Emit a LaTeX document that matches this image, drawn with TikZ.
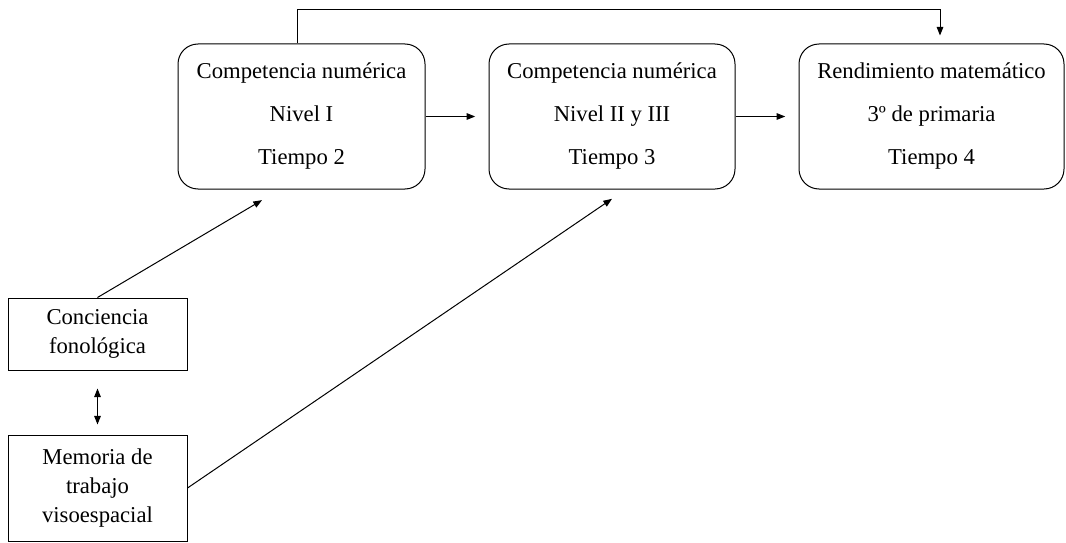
\documentclass[tikz,border=0pt]{standalone}
\usepackage{fontspec}
\setmainfont{Liberation Serif}
\usetikzlibrary{positioning, arrows.meta}

\tikzset{
    fase/.style={draw=black, line width=0.75pt, rounded corners=15pt, align=center,
        inner sep=0pt, minimum height=108.75pt, font=\fontsize{17}{32.25}\selectfont},
    predictor/.style={draw=black, line width=0.75pt, align=center, inner sep=0pt,
        minimum width=134.25pt, font=\fontsize{17}{21.75}\selectfont},
    freccia/.style={-{Triangle[length=6.5pt, width=5pt]}, line width=0.75pt}
}

\begin{document}
\begin{tikzpicture}[x=0.75pt, y=-0.75pt]
    \useasboundingbox (0,0) rectangle (1066,542);

    \node[fase, minimum width=185.25pt] (tempo2) at (301.5,116.5)
        {Competencia numérica\\Nivel I\\Tiempo 2};
    \node[fase, minimum width=184.5pt] (tempo3) at (612,116.5)
        {Competencia numérica\\Nivel II y III\\Tiempo 3};
    \node[fase, minimum width=198.75pt] (tempo4) at (931.5,116.5)
        {Rendimiento matemático\\3º de primaria\\Tiempo 4};

    \node[predictor, minimum height=54pt] (coscienza) at (97.5,334)
        {Conciencia\\fonológica};
    \node[predictor, minimum height=79.5pt] (memoria) at (97.5,488)
        {Memoria de\\trabajo\\visoespacial};

    \coordinate (alto) at (297,10);
    \coordinate (arrivo4) at (940,10);

    \draw[freccia, shorten >=10pt] (tempo2.east) -- (tempo3.west);
    \draw[freccia, shorten >=10pt] (tempo3.east) -- (tempo4.west);
    \draw[freccia, shorten >=6pt] (tempo2.north -| alto) -- (alto) -- (arrivo4)
        -- (arrivo4 |- tempo4.north);
    \draw[freccia] (coscienza.north) -- ([xshift=-29.6pt, yshift=-8pt]tempo2.south);
    \draw[freccia] (memoria.east) -- ([yshift=-7pt]tempo3.south);
    \draw[{Triangle[length=6.5pt, width=5pt]}-{Triangle[length=6.5pt, width=5pt]},
        line width=0.75pt, shorten <=13.5pt, shorten >=7.5pt]
        (coscienza.south) -- (memoria.north);
\end{tikzpicture}
\end{document}
